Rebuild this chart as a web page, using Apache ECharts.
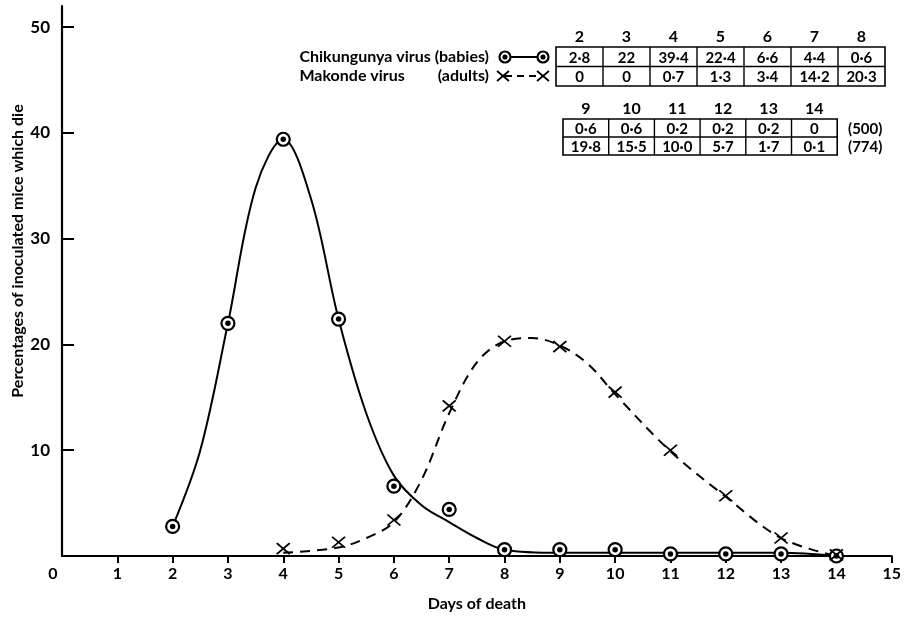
<!DOCTYPE html>
<html>
<head>
<meta charset="utf-8">
<script src="https://cdn.jsdelivr.net/npm/echarts@6/dist/echarts.min.js"></script>
<style>
    html, body { margin: 0; padding: 0; background: #fff; }
    #chart { width: 904px; height: 617px; }
</style>
</head>
<body>
<div id="chart"></div>
<script>
// 死亡日 (days of death)
var days = [2, 3, 4, 5, 6, 7, 8, 9, 10, 11, 12, 13, 14];
// percentages of inoculated mice which die
var chikValues = [2.8, 22, 39.4, 22.4, 6.6, 4.4, 0.6, 0.6, 0.6, 0.2, 0.2, 0.2, 0];
var makondeValues = [0, 0, 0.7, 1.3, 3.4, 14.2, 20.3, 19.8, 15.5, 10.0, 5.7, 1.7, 0.1];
var chikTotal = 500;
var makondeTotal = 774;

// the hand drawn curves
var chikCurveDays = [2, 2.5, 3, 3.5, 4, 4.5, 5, 5.5, 6, 6.5, 7, 7.5, 8, 9, 10, 11, 12, 13, 14];
var chikCurve = [2.8, 10, 22, 34.8, 39.4, 33.8, 22.4, 13.5, 7.6, 4.8, 3.2, 1.7, 0.6, 0.3, 0.3, 0.3, 0.3, 0.3, 0];
var makondeCurveDays = [4, 5, 5.5, 6, 6.5, 7, 7.5, 8, 8.5, 9, 9.5, 10, 11, 12, 13, 14];
var makondeCurve = [0.3, 0.8, 1.7, 3.2, 7.2, 13.5, 18.3, 20.3, 20.6, 19.9, 18.2, 15.3, 9.9, 5.6, 1.7, 0];

var xTickValues = [0, 1, 2, 3, 4, 5, 6, 7, 8, 9, 10, 11, 12, 13, 14, 15];
var yTickValues = [10, 20, 30, 40, 50];

var FONT = 'Lato, "Open Sans", sans-serif';

function pairs(xs, ys) {
    return xs.map(function (x, i) { return [x, ys[i]]; });
}

// 表格数字用中点
function fmtChik(v) {
    return (Number.isInteger(v) ? String(v) : v.toFixed(1)).replace('.', '\u00b7');
}
function fmtMakonde(v) {
    return (v === 0 ? '0' : v.toFixed(1)).replace('.', '\u00b7');
}

function measure(text, font) {
    var ctx = document.createElement('canvas').getContext('2d');
    ctx.font = font;
    return ctx.measureText(text).width;
}

// 画表格
function buildTable(from, to, left, top, colW, rowH, tail) {
    var els = [];
    var n = to - from;
    var w = colW * n;
    var cell = 'bold 15px ' + FONT;
    els.push({ type: 'rect', shape: { x: left, y: top, width: w, height: rowH * 2 },
        style: { fill: 'none', stroke: '#000', lineWidth: 1.6 } });
    els.push({ type: 'line', shape: { x1: left, y1: top + rowH, x2: left + w, y2: top + rowH },
        style: { stroke: '#000', lineWidth: 1.4 } });
    for (var i = 0; i < n; i++) {
        var k = from + i;
        var cx = left + colW * (i + 0.5);
        if (i > 0) {
            els.push({ type: 'line', shape: { x1: left + colW * i, y1: top, x2: left + colW * i, y2: top + rowH * 2 },
                style: { stroke: '#000', lineWidth: 1.4 } });
        }
        els.push({ type: 'text', x: cx, y: top - 10, style: { text: String(days[k]), font: 'bold 16px ' + FONT,
            fill: '#000', textAlign: 'center', textVerticalAlign: 'middle' } });
        els.push({ type: 'text', x: cx, y: top + rowH * 0.5 + 1, style: { text: fmtChik(chikValues[k]), font: cell,
            fill: '#000', textAlign: 'center', textVerticalAlign: 'middle' } });
        els.push({ type: 'text', x: cx, y: top + rowH * 1.5 + 1, style: { text: fmtMakonde(makondeValues[k]), font: cell,
            fill: '#000', textAlign: 'center', textVerticalAlign: 'middle' } });
    }
    if (tail) {
        els.push({ type: 'text', x: left + w + 28, y: top + rowH * 0.5 + 1, style: { text: '(' + chikTotal + ')',
            font: cell, fill: '#000', textAlign: 'center', textVerticalAlign: 'middle' } });
        els.push({ type: 'text', x: left + w + 28, y: top + rowH * 1.5 + 1, style: { text: '(' + makondeTotal + ')',
            font: cell, fill: '#000', textAlign: 'center', textVerticalAlign: 'middle' } });
    }
    return els;
}

// 图例
function buildLegend() {
    var els = [];
    var font = 'bold 16px ' + FONT;
    var right = 489;
    var chikLabel = 'Chikungunya virus (babies)';
    var left = right - measure(chikLabel, font);
    var textStyle = function (t, align) {
        return { text: t, font: font, fill: '#000', textAlign: align, textVerticalAlign: 'middle' };
    };
    els.push({ type: 'text', x: right, y: 57, style: textStyle(chikLabel, 'right') });
    els.push({ type: 'text', x: left, y: 76, style: textStyle('Makonde virus', 'left') });
    els.push({ type: 'text', x: right, y: 76, style: textStyle('(adults)', 'right') });
    els.push({ type: 'line', shape: { x1: 505, y1: 57, x2: 543, y2: 57 }, style: { stroke: '#000', lineWidth: 2 } });
    [505, 543].forEach(function (x) {
        els.push({ type: 'circle', shape: { cx: x, cy: 57, r: 5.5 }, style: { fill: '#fff', stroke: '#000', lineWidth: 2.2 } });
        els.push({ type: 'circle', shape: { cx: x, cy: 57, r: 2.6 }, style: { fill: '#000' } });
    });
    els.push({ type: 'line', shape: { x1: 505, y1: 76, x2: 541, y2: 76 },
        style: { stroke: '#000', lineWidth: 2, lineDash: [7, 5] } });
    [503, 543].forEach(function (x) {
        els.push({ type: 'polyline', shape: { points: [[x - 6, 71], [x + 6, 81]] }, style: { stroke: '#000', lineWidth: 1.8, fill: 'none' } });
        els.push({ type: 'polyline', shape: { points: [[x + 6, 71], [x - 6, 81]] }, style: { stroke: '#000', lineWidth: 1.8, fill: 'none' } });
    });
    return els;
}

var chart = echarts.init(document.getElementById('chart'));

var option = {
    animation: false,
    backgroundColor: '#fff',
    grid: { left: 62, right: 11, top: 6, bottom: 52 },
    xAxis: {
        type: 'value',
        min: 0,
        max: 15,
        interval: 1,
        name: 'Days of death',
        nameLocation: 'middle',
        nameGap: 40,
        nameTextStyle: { fontFamily: FONT, fontSize: 16, fontWeight: 'bold', color: '#000' },
        splitLine: { show: false },
        axisLine: { lineStyle: { color: '#000', width: 2.2 } },
        axisTick: { inside: false, length: 7, customValues: xTickValues.slice(1), lineStyle: { color: '#000', width: 2 } },
        axisLabel: {
            customValues: xTickValues,
            margin: 10,
            fontFamily: FONT, fontSize: 16, fontWeight: 'bold', color: '#000',
            formatter: function (v) { return v === 0 ? '{z|0}' : String(v); },
            rich: { z: { fontFamily: FONT, fontSize: 16, fontWeight: 'bold', color: '#000', padding: [0, 18, 0, 0] } }
        }
    },
    yAxis: {
        type: 'value',
        min: 0,
        max: 52,
        interval: 10,
        splitLine: { show: false },
        axisLine: { show: true, lineStyle: { color: '#000', width: 2.2 } },
        axisTick: { inside: true, length: 12, customValues: yTickValues, lineStyle: { color: '#000', width: 2 } },
        axisLabel: {
            customValues: yTickValues,
            margin: 12,
            fontFamily: FONT, fontSize: 17, fontWeight: 'bold', color: '#000'
        }
    },
    graphic: [
        { type: 'text', x: 18, y: 251, rotation: Math.PI / 2,
          style: { text: 'Percentages of inoculated mice which die', font: 'bold 16px ' + FONT, fill: '#000',
                   textAlign: 'center', textVerticalAlign: 'middle' } }
    ].concat(buildLegend(), buildTable(0, 7, 556, 47, 47, 19.5, false), buildTable(7, 13, 563, 119, 45.7, 18, true)),
    series: [
        {
            name: 'Chikungunya curve',
            type: 'line',
            smooth: 0.35,
            showSymbol: false,
            lineStyle: { color: '#000', width: 2 },
            data: pairs(chikCurveDays, chikCurve),
            z: 2
        },
        {
            name: 'Makonde curve',
            type: 'line',
            smooth: 0.35,
            showSymbol: false,
            lineStyle: { color: '#000', width: 2, type: [10, 7] },
            data: pairs(makondeCurveDays, makondeCurve),
            z: 2
        },
        {
            name: 'Chikungunya virus (babies)',
            type: 'scatter',
            symbol: 'circle',
            symbolSize: 13,
            itemStyle: { color: '#fff', borderColor: '#000', borderWidth: 2.2, opacity: 1 },
            data: pairs(days, chikValues),
            z: 4
        },
        {
            name: 'Chikungunya dot',
            type: 'scatter',
            symbol: 'circle',
            symbolSize: 5.5,
            itemStyle: { color: '#000', opacity: 1 },
            data: pairs(days, chikValues),
            z: 5
        },
        {
            name: 'Makonde virus (adults)',
            type: 'scatter',
            symbol: 'path://M0,0L12,10M12,0L0,10',
            symbolSize: [13, 11],
            itemStyle: { color: 'rgba(0,0,0,0)', borderColor: '#000', borderWidth: 1.8, opacity: 1 },
            data: pairs(days, makondeValues).filter(function (p) { return p[1] > 0; }),
            z: 6
        }
    ]
};

chart.setOption(option);
</script>
</body>
</html>
